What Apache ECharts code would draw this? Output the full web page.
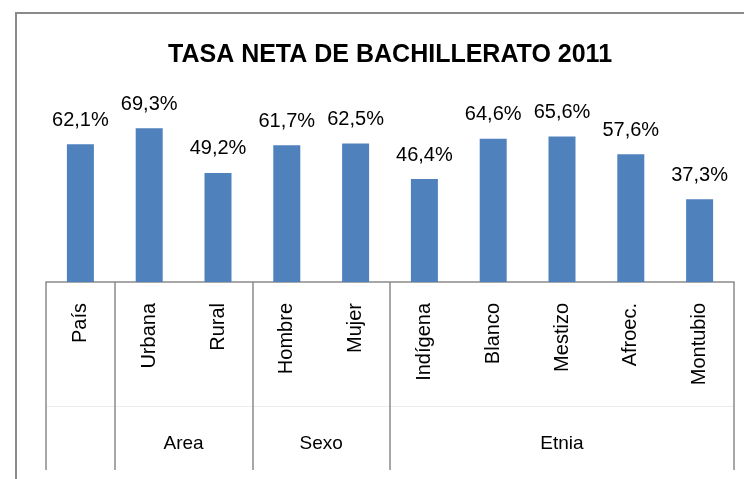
<!DOCTYPE html>
<html>
<head>
<meta charset="utf-8">
<script src="https://cdn.jsdelivr.net/npm/echarts@6/dist/echarts.min.js"></script>
<style>
  html, body { margin: 0; padding: 0; background: #fff; }
  #chart { width: 744px; height: 479px; }
</style>
</head>
<body>
<div id="chart"></div>
<script>
const categories = ['País', 'Urbana', 'Rural', 'Hombre', 'Mujer', 'Indígena', 'Blanco', 'Mestizo', 'Afroec.', 'Montubio']
const values = [62.1, 69.3, 49.2, 61.7, 62.5, 46.4, 64.6, 65.6, 57.6, 37.3]
const groups = ['', 'Area', 'Sexo', 'Etnia']
const groupSpans = [1, 2, 2, 5]

// eje auxiliar con medias posiciones: bordes de grupo y centros de grupo
const halfSlots = new Array(categories.length * 2 + 1).fill('')
const boundaryIdx = new Set([0])
let pos = 0
groups.forEach((g, i) => {
    halfSlots[pos * 2 + groupSpans[i]] = g
    pos += groupSpans[i]
    boundaryIdx.add(pos * 2)
})

const font = 'Liberation Sans, Arial, sans-serif'
const gray = '#8a8a8a'

const chart = echarts.init(document.getElementById('chart'))
chart.setOption({
    animation: false,
    title: {
        text: 'TASA NETA DE BACHILLERATO 2011',
        left: 163,
        top: 38,
        textStyle: { fontFamily: font, fontSize: 25, fontWeight: 'bold', color: '#000' }
    },
    graphic: [{
        type: 'rect',
        shape: { x: 16, y: 13, width: 900, height: 700 },
        style: { fill: 'none', stroke: gray, lineWidth: 2 },
        silent: true
    }],
    grid: { left: 46, right: 10, top: 104.6, bottom: 197, outerBoundsMode: 'none' },
    xAxis: [
        {
            type: 'category',
            position: 'bottom',
            data: categories,
            axisLine: { lineStyle: { color: gray, width: 1.5 } },
            axisTick: { show: false },
            axisLabel: {
                rotate: 90,
                interval: 0,
                margin: 21,
                fontFamily: font,
                fontSize: 20,
                color: '#000'
            }
        },
        {
            type: 'category',
            position: 'bottom',
            data: halfSlots,
            boundaryGap: false,
            axisLine: { show: false },
            axisTick: {
                interval: (idx) => boundaryIdx.has(idx),
                length: 188,
                lineStyle: { color: gray, width: 1.5 }
            },
            axisLabel: {
                interval: 0,
                margin: 152,
                fontFamily: font,
                fontSize: 19,
                color: '#000'
            }
        },
        {
            type: 'category',
            position: 'bottom',
            data: categories,
            offset: 124,
            axisLine: { lineStyle: { color: '#ececec', width: 1 } },
            axisTick: { show: false },
            axisLabel: { show: false }
        }
    ],
    yAxis: { type: 'value', min: 0, max: 80, show: false, splitLine: { show: false } },
    series: [{
        type: 'bar',
        data: values,
        barWidth: 27,
        itemStyle: { color: '#4f81bd' },
        label: {
            show: true,
            position: 'top',
            distance: 14,
            fontFamily: font,
            fontSize: 20,
            color: '#000',
            formatter: (p) => p.value.toFixed(1).replace('.', ',') + '%'
        }
    }]
})
</script>
</body>
</html>
